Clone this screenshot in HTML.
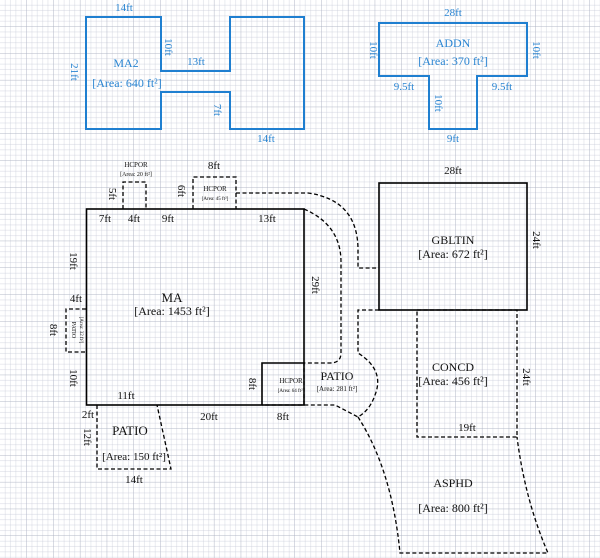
<!DOCTYPE html>
<html><head><meta charset="utf-8"><style>
html,body{margin:0;padding:0;background:#fff;}
svg{display:block;font-family:"Liberation Serif",serif;}
</style></head><body>
<svg width="600" height="558" viewBox="0 0 600 558" xmlns="http://www.w3.org/2000/svg">
<defs>
<pattern id="g" width="5.36" height="5.36" patternUnits="userSpaceOnUse">
<path d="M5.36 0V5.36H0" fill="none" stroke="#c4c8d6" stroke-width="0.7"/>
</pattern>
<pattern id="G" width="26.8" height="26.8" patternUnits="userSpaceOnUse">
<rect width="26.8" height="26.8" fill="url(#g)"/>
<path d="M26.8 0V26.8H0" fill="none" stroke="#a9aebf" stroke-width="0.8"/>
</pattern>
</defs>
<rect width="600" height="558" fill="url(#G)"/>

<g fill="none" stroke="#1f7fd0" stroke-width="2">
<path d="M86,17 L161,17 L161,71 L230,71 L230,17 L304,17 L304,129 L230,129 L230,92 L161,92 L161,129 L86,129 Z"/>
<path d="M379,23 L527,23 L527,76 L477,76 L477,129 L429,129 L429,76 L379,76 Z"/>
</g>
<g fill="#2a85d2" font-size="11" text-anchor="middle">
<text x="124" y="11">14ft</text>
<text x="126" y="67" font-size="12">MA2</text>
<text x="127" y="87" font-size="12">[Area: 640 ft²]</text>
<text x="196" y="65">13ft</text>
<text x="266" y="142">14ft</text>
<text transform="translate(165,47) rotate(90)">10ft</text>
<text transform="translate(71,72) rotate(90)">21ft</text>
<text transform="translate(214,110) rotate(90)">7ft</text>
<text x="453" y="16">28ft</text>
<text x="453" y="47" font-size="12">ADDN</text>
<text x="453" y="65" font-size="12">[Area: 370 ft²]</text>
<text transform="translate(370,50) rotate(90)">10ft</text>
<text transform="translate(533,50) rotate(90)">10ft</text>
<text x="404" y="90">9.5ft</text>
<text x="502" y="90">9.5ft</text>
<text transform="translate(435,103) rotate(90)">10ft</text>
<text x="453" y="142">9ft</text>
</g>

<g fill="none" stroke="#000" stroke-width="1.6">
<rect x="86.5" y="209" width="217.5" height="196"/>
<rect x="379" y="183" width="148" height="127"/>
<path d="M262,405 L262,363 L304,363"/>
</g>
<g fill="none" stroke="#000" stroke-width="1.3" stroke-dasharray="4,2.5">
<path d="M123,209 L123,182 L146,182 L146,209"/>
<path d="M193,209 L193,177 L236,177 L236,209"/>
<path d="M236,193 L308,193 Q358,200 358,250 L358,268 L379,268"/>
<path d="M304,209 Q341,225 341,262 L341,353 Q341,363 330,363 L304,363 L304,405"/>
<path d="M379,310 L358,310 L358,353 Q385,370 375,395 Q370,410 358,417 L335,405 L262,405"/>
<path d="M358,417 Q392,470 400,553 L548,553 Q525,500 517,437"/>
<rect x="417" y="310" width="100" height="127"/>
<path d="M86,309 L66,309 L66,352 L86,352"/>
<path d="M97,405 L97,469 L171,469 L157,405"/>
</g>

<g fill="#111" font-size="11" text-anchor="middle">
<text x="136" y="167" font-size="7">HCPOR</text>
<text x="136" y="176" font-size="6">[Area: 20 ft²]</text>
<text x="214" y="169">8ft</text>
<text x="215" y="191" font-size="7">HCPOR</text>
<text x="215" y="200" font-size="5">[Area: 45 ft²]</text>
<text x="105" y="222">7ft</text>
<text x="134" y="222">4ft</text>
<text x="168" y="222">9ft</text>
<text x="267" y="222">13ft</text>
<text transform="translate(109,194) rotate(90)">5ft</text>
<text transform="translate(178,191) rotate(90)">6ft</text>
<text transform="translate(70,261) rotate(90)">19ft</text>
<text x="76" y="302">4ft</text>
<text x="172" y="302" font-size="13">MA</text>
<text x="172" y="315" font-size="12">[Area: 1453 ft²]</text>
<text transform="translate(312,285) rotate(90)">29ft</text>
<text transform="translate(50,330) rotate(90)">8ft</text>
<text transform="translate(72,330) rotate(90)" font-size="6">PATIO</text>
<text transform="translate(80,330) rotate(90)" font-size="5">[Area: 32 ft²]</text>
<text transform="translate(70,378) rotate(90)">10ft</text>
<text x="126" y="399">11ft</text>
<text x="88" y="418">2ft</text>
<text x="209" y="420">20ft</text>
<text x="283" y="420">8ft</text>
<text transform="translate(249,384) rotate(90)">8ft</text>
<text x="291" y="383" font-size="7">HCPOR</text>
<text x="291" y="392" font-size="5">[Area: 64 ft²]</text>
<text x="337" y="380" font-size="12">PATIO</text>
<text x="337" y="391" font-size="7">[Area: 281 ft²]</text>
<text transform="translate(84,437) rotate(90)">12ft</text>
<text x="130" y="435" font-size="13">PATIO</text>
<text x="134" y="460">[Area: 150 ft²]</text>
<text x="134" y="483">14ft</text>
<text x="453" y="174">28ft</text>
<text x="453" y="244" font-size="12">GBLTIN</text>
<text x="453" y="258" font-size="12">[Area: 672 ft²]</text>
<text transform="translate(533,240) rotate(90)">24ft</text>
<text x="453" y="371" font-size="12">CONCD</text>
<text x="453" y="385" font-size="12">[Area: 456 ft²]</text>
<text transform="translate(523,377) rotate(90)">24ft</text>
<text x="467" y="431">19ft</text>
<text x="453" y="487" font-size="12">ASPHD</text>
<text x="453" y="512" font-size="12">[Area: 800 ft²]</text>
</g>
</svg>
</body></html>
